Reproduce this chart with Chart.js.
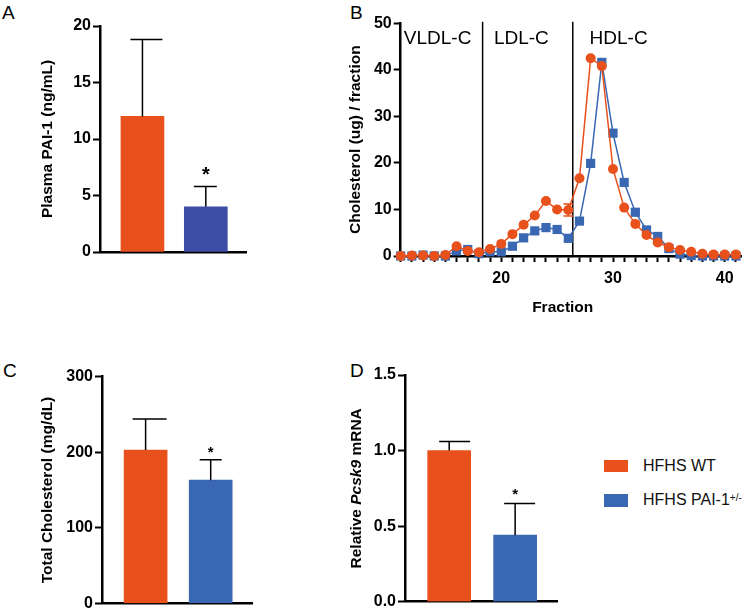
<!DOCTYPE html>
<html><head><meta charset="utf-8">
<script src="https://cdn.jsdelivr.net/npm/chart.js@4/dist/chart.umd.min.js"></script>
<style>
html,body{margin:0;padding:0;background:#fff;overflow:hidden;width:748px;height:611px;position:relative;}
.panel{position:absolute;}
.letter{position:absolute;font:19px "Liberation Sans",Arial,sans-serif;color:#000;line-height:19px;}
.lgtext{position:absolute;white-space:nowrap;font:16px "Liberation Sans",Arial,sans-serif;color:#111;line-height:16px;}
.lgtext sup{font-size:10px;vertical-align:top;position:relative;top:-2px;}
.sw{position:absolute;width:24px;}
</style></head><body>
<div class="letter" style="left:2px;top:2.5px">A</div>
<div class="letter" style="left:350px;top:2.5px">B</div>
<div class="letter" style="left:3px;top:361px">C</div>
<div class="letter" style="left:350px;top:361px">D</div>

<div class="panel" style="left:0;top:0;width:247px;height:270px"><canvas id="cA"></canvas></div>
<div class="panel" style="left:340px;top:0;width:408px;height:330px"><canvas id="cB"></canvas></div>
<div class="panel" style="left:0;top:340px;width:253px;height:281px"><canvas id="cC"></canvas></div>
<div class="panel" style="left:340px;top:340px;width:218px;height:281px"><canvas id="cD"></canvas></div>

<div id="legend"></div>

<script>
// ---------------- data ----------------
const groups = ['HFHS WT', 'HFHS PAI-1+/-'];
const significant = [false, true];

// Panel A: plasma PAI-1 (ng/mL)
const paiMean = [12.0, 4.0];
const paiErr = [6.8, 1.8];
const paiTicks = [0, 5, 10, 15, 20];

// Panel C: total cholesterol (mg/dL)
const tcMean = [203, 163];
const tcErr = [41, 27];
const tcTicks = [0, 100, 200, 300];

// Panel D: relative Pcsk9 mRNA
const pcsk9Mean = [1.0, 0.44];
const pcsk9Err = [0.06, 0.21];
const pcsk9Ticks = [0, 0.5, 1.0, 1.5];
const pcsk9TickLabels = ['0.0', '0.5', '1.0', '1.5'];

// Panel B: FPLC cholesterol profile
const fractions = [11, 12, 13, 14, 15, 16, 17, 18, 19, 20, 21, 22, 23, 24, 25, 26, 27, 28, 29, 30, 31, 32, 33, 34, 35, 36, 37, 38, 39, 40, 41];
const wtChol  = [0, 0.1, 0.1, 0, 0.2, 2.1, 1.1, 0.8, 1.5, 2.6, 4.7, 6.7, 8.7, 11.8, 10.0, 9.9, 16.7, 42.5, 40.8, 18.7, 10.4, 6.9, 4.5, 2.9, 1.9, 1.3, 0.9, 0.5, 0.3, 0.3, 0.3];
const wtCholErr = [0, 0, 0, 0, 0, 0, 0, 0, 0, 0, 0, 0, 0, 0, 0, 1.3, 0, 0, 0, 0, 0, 0, 0, 0, 0, 0, 0, 0, 0, 0, 0];
const hetChol = [0, 0, 0.2, 0, 0, 1.1, 1.4, 0.5, 0.9, 0.9, 2.1, 3.9, 5.4, 6.1, 5.7, 3.8, 7.5, 19.9, 41.6, 26.4, 15.8, 9.4, 5.6, 4.2, 1.6, 0.4, 0.1, 0, 0, 0, 0];
const cholTicks = [0, 10, 20, 30, 40, 50];
const fractionLabelTicks = [20, 30, 40];
const regionBounds = [18.33, 26.4];
const regionNames = ['VLDL-C', 'LDL-C', 'HDL-C'];
const regionNameAt = [14.3, 21.8, 30.5];
const regionNameLevel = 46.6;

// ---------------- styles ----------------
const FONT = "'Liberation Sans', Arial, Helvetica, sans-serif";
const ORANGE = '#E8501C';
const BLUE_A = '#3B4DA6';
const BLUE = '#3A67B2';
const TICK_FONT = {family: FONT, size: 16, weight: 'bold'};
const TITLE_FONT = {family: FONT, size: 15.5, weight: 'bold'};

// legend (HTML)
const legendEl = document.getElementById('legend');
[[ORANGE, 460, 12, 458], [BLUE, 494, 13, 492]].forEach((s, i) => {
  const sw = document.createElement('div');
  sw.className = 'sw';
  sw.style.cssText = `left:604px;top:${s[1]}px;height:${s[2]}px;background:${s[0]}`;
  legendEl.appendChild(sw);
  const t = document.createElement('div');
  t.className = 'lgtext';
  t.style.left = '643px'; t.style.top = s[3] + 'px';
  const m = groups[i].match(/^(.*?)([+]\/-)?$/);
  t.textContent = m[1];
  if (m[2]) { const sup = document.createElement('sup'); sup.textContent = m[2]; t.appendChild(sup); }
  legendEl.appendChild(t);
});

function yScale(o) {
  return {
    min: o.ticks[0], max: o.ticks[o.ticks.length - 1],
    afterBuildTicks: s => { s.ticks = o.ticks.map(v => ({value: v})); },
    ticks: {color: '#000', font: TICK_FONT, padding: 2,
      callback: (v, i) => o.tickLabels ? o.tickLabels[i] : String(v)},
    grid: {drawOnChartArea: false, drawTicks: true, tickLength: 7, tickWidth: 2, tickColor: '#000'},
    border: {display: true, color: '#000', width: 2.5},
    title: o.title ? {display: true, text: o.title, color: '#000', font: TITLE_FONT,
      padding: {top: o.titlePad, bottom: 0}} : {display: false},
    afterFit: s => { s.width = o.yWidth; }
  };
}

function barPanel(id, o) {
  const errPlugin = {
    id: 'err_' + id,
    afterDatasetsDraw(chart) {
      const ctx = chart.ctx, ys = chart.scales.y, meta = chart.getDatasetMeta(0);
      ctx.save();
      ctx.strokeStyle = '#000'; ctx.lineWidth = 1.5;
      meta.data.forEach((bar, i) => {
        const top = ys.getPixelForValue(o.values[i] + o.errors[i]);
        ctx.beginPath();
        ctx.moveTo(bar.x, bar.y); ctx.lineTo(bar.x, top);
        ctx.moveTo(bar.x - o.caps[i][0], top); ctx.lineTo(bar.x + o.caps[i][1], top);
        ctx.stroke();
        if (significant[i]) {
          ctx.fillStyle = '#000';
          ctx.font = `bold ${o.starSize}px ${FONT}`;
          ctx.textAlign = 'center'; ctx.textBaseline = 'alphabetic';
          ctx.fillText('*', bar.x, top - o.starLift + 0.57 * o.starSize);
        }
      });
      ctx.restore();
    }
  };
  const plugins = [errPlugin];
  if (o.richTitle) {
    plugins.push({
      id: 'rich_' + id,
      afterDraw(chart) {
        const ctx = chart.ctx, ys = chart.scales.y, ca = chart.chartArea;
        ctx.save();
        ctx.translate(ys.left + o.richOffset, (ca.top + ca.bottom) / 2);
        ctx.rotate(-Math.PI / 2);
        ctx.textBaseline = 'middle'; ctx.textAlign = 'left'; ctx.fillStyle = '#000';
        let total = 0;
        const ws = o.richTitle.map(p => { ctx.font = p[1]; const w = ctx.measureText(p[0]).width; total += w; return w; });
        let x = -total / 2;
        o.richTitle.forEach((p, i) => { ctx.font = p[1]; ctx.fillText(p[0], x, 0); x += ws[i]; });
        ctx.restore();
      }
    });
  }
  new Chart(document.getElementById(id), {
    type: 'bar',
    data: {datasets: [{
      label: o.label,
      data: o.values.map((v, i) => ({x: i + 1, y: v})),
      backgroundColor: o.colors, borderWidth: 0, barThickness: 43
    }]},
    options: {
      responsive: true, maintainAspectRatio: false, animation: false, devicePixelRatio: 1,
      layout: {padding: {left: o.padLeft, top: o.padTop, right: 0, bottom: 0}},
      plugins: {legend: {display: false}, tooltip: {enabled: false}},
      scales: {
        x: {type: 'linear', offset: false, min: 0.33, max: 2.65, ticks: {display: false}, grid: {display: false, offset: false},
          border: {display: true, color: '#000', width: 2.5},
          afterFit: s => { s.height = o.xHeight; }},
        y: yScale(o)
      }
    },
    plugins
  });
}

barPanel('cA', {
  label: 'Plasma PAI-1', values: paiMean, errors: paiErr, colors: [ORANGE, BLUE_A],
  ticks: paiTicks, title: 'Plasma PAI-1 (ng/mL)', titlePad: 4,
  padLeft: 34, padTop: 26, yWidth: 66, xHeight: 18,
  caps: [[12, 20], [12, 11]], starSize: 20, starLift: 17
});
barPanel('cC', {
  label: 'Total Cholesterol', values: tcMean, errors: tcErr, colors: [ORANGE, BLUE],
  ticks: tcTicks, title: 'Total Cholesterol (mg/dL)', titlePad: 4,
  padLeft: 34, padTop: 36.7, yWidth: 68, xHeight: 17.7,
  caps: [[13, 21], [11, 11]], starSize: 15, starLift: 11
});
barPanel('cD', {
  label: 'Relative Pcsk9 mRNA', values: pcsk9Mean, errors: pcsk9Err, colors: [ORANGE, BLUE],
  ticks: pcsk9Ticks, tickLabels: pcsk9TickLabels, title: null,
  richTitle: [['Relative ', `bold 15.5px ${FONT}`], ['Pcsk9', `italic bold 15.5px ${FONT}`], [' mRNA', `bold 15.5px ${FONT}`]],
  richOffset: 17,
  padLeft: 0, padTop: 35, yWidth: 65, xHeight: 19.3,
  caps: [[10, 21], [11, 20]], starSize: 15, starLift: 13
});

// Panel B
const regionPlugin = {
  id: 'regions',
  beforeDatasetsDraw(chart) {
    const ctx = chart.ctx, xs = chart.scales.x, ys = chart.scales.y, ca = chart.chartArea;
    ctx.save();
    ctx.strokeStyle = '#000'; ctx.lineWidth = 1.5;
    regionBounds.forEach(b => {
      const x = xs.getPixelForValue(b);
      ctx.beginPath(); ctx.moveTo(x, ys.getPixelForValue(0)); ctx.lineTo(x, ca.top - 1.5); ctx.stroke();
    });
    ctx.fillStyle = '#000'; ctx.font = `19px ${FONT}`;
    ctx.textAlign = 'center'; ctx.textBaseline = 'middle';
    regionNames.forEach((n, i) => ctx.fillText(n, xs.getPixelForValue(regionNameAt[i]), ys.getPixelForValue(regionNameLevel)));
    // error bars of WT profile
    ctx.strokeStyle = ORANGE; ctx.lineWidth = 1.5;
    fractions.forEach((f, i) => {
      if (!wtCholErr[i]) return;
      const x = xs.getPixelForValue(f);
      const y1 = ys.getPixelForValue(wtChol[i] + wtCholErr[i]);
      const y2 = ys.getPixelForValue(wtChol[i] - wtCholErr[i]);
      ctx.beginPath();
      ctx.moveTo(x, y1); ctx.lineTo(x, y2);
      ctx.moveTo(x - 5, y1); ctx.lineTo(x + 5, y1);
      ctx.moveTo(x - 5, y2); ctx.lineTo(x + 5, y2);
      ctx.stroke();
    });
    ctx.restore();
  },
  afterDraw(chart) {
    const ctx = chart.ctx, xs = chart.scales.x, ys = chart.scales.y;
    ctx.save();
    ctx.fillStyle = '#000'; ctx.font = `bold 15.5px ${FONT}`;
    ctx.textAlign = 'center'; ctx.textBaseline = 'middle';
    const cx = (xs.getPixelForValue(fractions[0]) + xs.getPixelForValue(fractionLabelTicks[fractionLabelTicks.length - 1])) / 2;
    ctx.fillText('Fraction', cx, ys.bottom + 52);
    ctx.restore();
  }
};

new Chart(document.getElementById('cB'), {
  type: 'line',
  data: {datasets: [
    {label: groups[0], data: fractions.map((f, i) => ({x: f, y: wtChol[i]})),
      borderColor: ORANGE, backgroundColor: ORANGE, borderWidth: 1.5, tension: 0,
      pointStyle: 'circle', pointRadius: 5, pointBorderWidth: 0, pointBackgroundColor: ORANGE, clip: false},
    {label: groups[1], data: fractions.map((f, i) => ({x: f, y: hetChol[i]})),
      borderColor: BLUE, backgroundColor: BLUE, borderWidth: 1.5, tension: 0,
      pointStyle: 'rect', pointRadius: 6.5, pointBorderWidth: 0, pointBackgroundColor: BLUE, clip: false}
  ]},
  options: {
    responsive: true, maintainAspectRatio: false, animation: false, devicePixelRatio: 1,
    layout: {padding: {left: 6.7, top: 23.3, right: 0, bottom: 0}},
    plugins: {legend: {display: false}, tooltip: {enabled: false}},
    scales: {
      x: {type: 'linear', min: 11, max: 41.5,
        afterBuildTicks: s => { s.ticks = fractions.map(v => ({value: v})); },
        ticks: {autoSkip: false, maxRotation: 0, padding: 7, color: '#000', font: TICK_FONT,
          callback: v => fractionLabelTicks.includes(v) ? String(v) : ''},
        grid: {drawOnChartArea: false, drawTicks: true, tickLength: 6, tickWidth: 2, tickColor: '#000'},
        border: {display: true, color: '#000', width: 2.5},
        afterFit: s => { s.height = 74; }},
      y: yScale({ticks: cholTicks, title: 'Cholesterol (ug) / fraction', titlePad: 0, yWidth: 54})
    }
  },
  plugins: [regionPlugin]
});
</script>
</body></html>
